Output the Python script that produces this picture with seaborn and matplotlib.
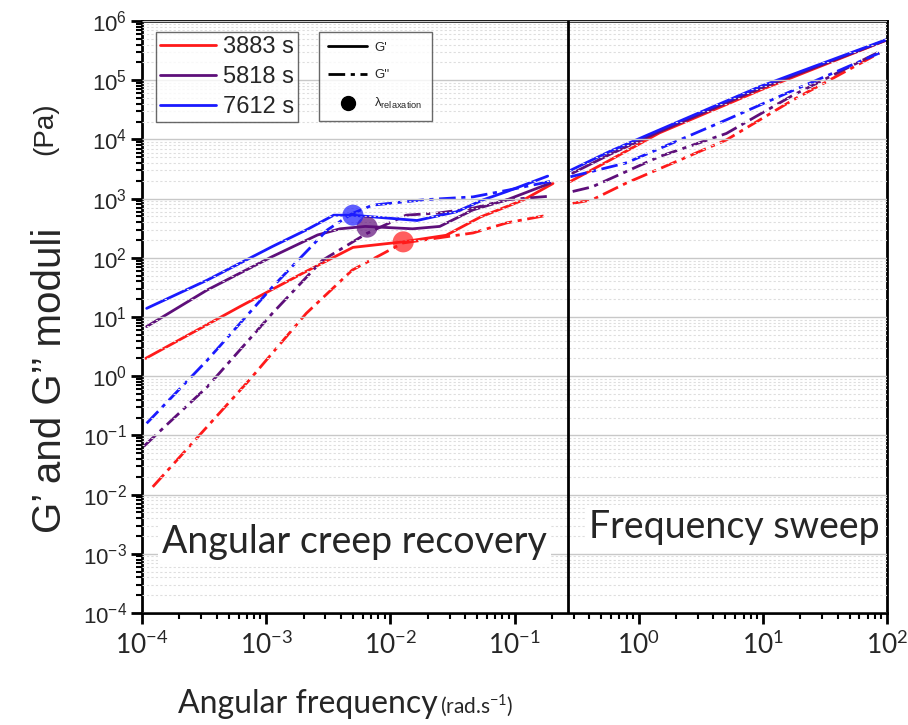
import numpy as np
import pandas as pd
import matplotlib
matplotlib.use("Agg")
import matplotlib.pyplot as plt
import seaborn as sns
from matplotlib.lines import Line2D
from matplotlib.markers import TICKLEFT, TICKDOWN

# ---- data ----
times = ["3883 s", "5818 s", "7612 s"]
colors = {"3883 s": "#ff1a1a", "5818 s": "#5e0f7a", "7612 s": "#1a1aff"}

# creep recovery (converted) part
creep_w = {
    ("3883 s", "G'"): [1.07e-4, 6.15e-4, 2.1e-3, 5.0e-3, 1.26e-2, 2.81e-2, 5.33e-2, 0.118, 0.204],
    ("3883 s", "G''"): [1.22e-4, 7.35e-4, 2.1e-3, 4.93e-3, 1.26e-2, 4.63e-2, 8.7e-2, 0.185],
    ("5818 s", "G'"): [1.09e-4, 3.35e-4, 1.12e-3, 2.59e-3, 3.93e-3, 6.28e-3, 1.51e-2, 2.5e-2, 4.63e-2, 8.7e-2, 0.194],
    ("5818 s", "G''"): [1.03e-4, 3.35e-4, 1.12e-3, 2.84e-3, 6.44e-3, 1.34e-2, 2.5e-2, 4.63e-2, 8.7e-2, 0.194],
    ("7612 s", "G'"): [1.09e-4, 3.35e-4, 1.12e-3, 2.1e-3, 3.5e-3, 4.93e-3, 1.64e-2, 3.41e-2, 5.6e-2, 8.7e-2, 0.185],
    ("7612 s", "G''"): [1.09e-4, 3.35e-4, 1.12e-3, 3.1e-3, 4.93e-3, 7.2e-3, 1.85e-2, 4.63e-2, 8.7e-2, 0.194],
}
creep_g = {
    ("3883 s", "G'"): [2.0, 15, 59, 150, 186, 240, 490, 950, 1800],
    ("3883 s", "G''"): [0.0135, 0.87, 11.5, 62, 178, 263, 390, 525],
    ("5818 s", "G'"): [6.9, 28.6, 105, 243, 309, 339, 309, 339, 645, 955, 1820],
    ("5818 s", "G''"): [0.065, 0.66, 11.5, 91, 257, 525, 575, 690, 955, 1100],
    ("7612 s", "G'"): [14, 42, 155, 295, 525, 525, 427, 600, 955, 1320, 2400],
    ("7612 s", "G''"): [0.16, 1.86, 32, 295, 560, 776, 955, 1070, 1380, 1950],
}

# frequency sweep part
sweep_w = {
    ("3883 s", "G'"): [0.282, 0.587, 1.47, 9.45, 100],
    ("3883 s", "G''"): [0.294, 0.422, 0.79, 5.08, 17.6, 86.7],
    ("5818 s", "G'"): [0.294, 0.587, 1.47, 9.45, 100],
    ("5818 s", "G''"): [0.294, 0.422, 1.47, 5.08, 17.6, 86.7],
    ("7612 s", "G'"): [0.282, 0.587, 1.47, 9.45, 100],
    ("7612 s", "G''"): [0.282, 0.79, 5.08, 17.6, 86.7],
}
sweep_g = {
    ("3883 s", "G'"): [1950, 4470, 12900, 67600, 480000],
    ("3883 s", "G''"): [830, 955, 1820, 9800, 46800, 288000],
    ("5818 s", "G'"): [2700, 5600, 13500, 72400, 480000],
    ("5818 s", "G''"): [1320, 1580, 5130, 12600, 56200, 302000],
    ("7612 s", "G'"): [3000, 6300, 14500, 78000, 490000],
    ("7612 s", "G''"): [2340, 4000, 21400, 67600, 288000],
}

# relaxation points
relax_w = [0.0127, 0.0065, 0.0050]
relax_g = [186, 330, 525]

switch_w = 0.269

rows = []
for (t, m), w in creep_w.items():
    for x, y in zip(w, creep_g[(t, m)]):
        rows.append((t, m, "creep", x, y))
for (t, m), w in sweep_w.items():
    for x, y in zip(w, sweep_g[(t, m)]):
        rows.append((t, m, "sweep", x, y))
df = pd.DataFrame(rows, columns=["time", "modulus", "test", "omega", "G"])

sns.set_style("ticks")
plt.rcParams["axes.linewidth"] = 2
plt.rcParams["axes.edgecolor"] = "black"

fig = plt.figure(figsize=(9.08, 7.25), dpi=100)
ax = fig.add_axes([0.1564, 0.1545, 0.8205, 0.8165])

dashdot = (0, (6, 2, 1.5, 2))
dash = {"G'": "-", "G''": dashdot}
for (t, m, test), sub in df.groupby(["time", "modulus", "test"]):
    sns.lineplot(data=sub, x="omega", y="G", ax=ax, color=colors[t],
                 linestyle=dash[m], lw=2, legend=False, estimator=None)

rel = pd.DataFrame({"time": times, "omega": relax_w, "G": relax_g})
sns.scatterplot(data=rel, x="omega", y="G", hue="time", palette=colors,
                s=230, alpha=0.7, edgecolor="none", legend=False, ax=ax, zorder=5)

ax.axvline(switch_w, color="black", lw=2, zorder=6)

ax.set_xscale("log")
ax.set_yscale("log")
ax.set_xlim(1e-4, 1e2)
ax.set_ylim(1e-4, 1e6)

ax.grid(True, axis="y", which="major", color="#c8c8c8", lw=1)
ax.grid(True, axis="y", which="minor", color="#dedede", lw=0.8, ls=(0, (2, 2)))

ax.set_xlabel("")
ax.set_ylabel("")

# region labels
ax.text(1.45e-4, 8e-4, "Angular creep recovery", fontsize=27, family="Lato",
        va="bottom", ha="left", zorder=7,
        bbox=dict(facecolor="white", edgecolor="none", pad=3))
ax.text(0.40, 1.4e-3, "Frequency sweep", fontsize=27, family="Lato",
        va="bottom", ha="left", zorder=7,
        bbox=dict(facecolor="white", edgecolor="none", pad=3))

# axis titles
fig.text(0.339, 0.0166, "Angular frequency", fontsize=23, family="Lato",
         ha="center", va="baseline")
fig.text(0.525, 0.0166, r"(rad.s$^{\mathregular{-1}}$)", fontsize=15, family="Lato",
         ha="center", va="baseline")
fig.text(0.055, 0.475, "G\u2019 and G\u2019\u2019 moduli", fontsize=29,
         family="Liberation Sans", rotation=90, ha="center", va="center")
fig.text(0.05, 0.823, "(Pa)", fontsize=20, family="Liberation Sans",
         rotation=90, ha="center", va="center")

# legends
h1 = [Line2D([], [], color=colors[t], lw=2) for t in times]
leg1 = ax.legend(h1, times, loc="upper left", bbox_to_anchor=(0.019, 0.981),
                 frameon=True, fancybox=False, edgecolor="#444444",
                 prop={"family": "Liberation Sans", "size": 17},
                 handlelength=2.4, handletextpad=0.3, borderpad=0.15,
                 labelspacing=0.35, borderaxespad=0)
leg1.get_frame().set_linewidth(1)
ax.add_artist(leg1)

h2 = [Line2D([], [], color="black", lw=2, ls="-"),
      Line2D([], [], color="black", lw=2, ls=dashdot),
      Line2D([], [], color="black", lw=0, marker="o", ms=10)]
l2 = ["G'", "G''", "\u03bb$_{\\mathregular{relaxation}}$"]
leg2 = ax.legend(h2, l2, loc="upper left", bbox_to_anchor=(0.237, 0.981),
                 frameon=True, fancybox=False, edgecolor="#444444",
                 prop={"family": "Liberation Sans", "size": 9.5},
                 handlelength=3.0, handletextpad=0.5, borderpad=0.7,
                 labelspacing=1.15, borderaxespad=0)
leg2.get_frame().set_linewidth(1)

# ticks: outward on bottom/left only
ax.tick_params(which="both", direction="out", length=8, width=2, color="black",
               left=True, bottom=True, top=False, right=False)
ax.tick_params(which="minor", length=4.5, width=1.5)
ax.tick_params(axis="y", which="major", labelsize=16, pad=3,
               labelfontfamily="Liberation Sans")
ax.tick_params(axis="x", which="major", labelsize=19, pad=5,
               labelfontfamily="Lato")

# make sure the tick marks really get drawn
fig.canvas.draw()
for axis, mk in ((ax.xaxis, TICKDOWN), (ax.yaxis, TICKLEFT)):
    for ticks, size, width in ((axis.get_major_ticks(), 8, 2),
                               (axis.get_minor_ticks(), 4.5, 1.5)):
        for tk in ticks:
            tk.tick1line.set(visible=True, marker=mk, markersize=size,
                             markeredgewidth=width, markeredgecolor="black",
                             color="black", alpha=1, linestyle="None",
                             zorder=10, clip_on=False)
    axis.set_zorder(2.6)
for ln in ax.get_ygridlines():
    ln.set_zorder(0.4)

fig.savefig("out.png", dpi=100)
